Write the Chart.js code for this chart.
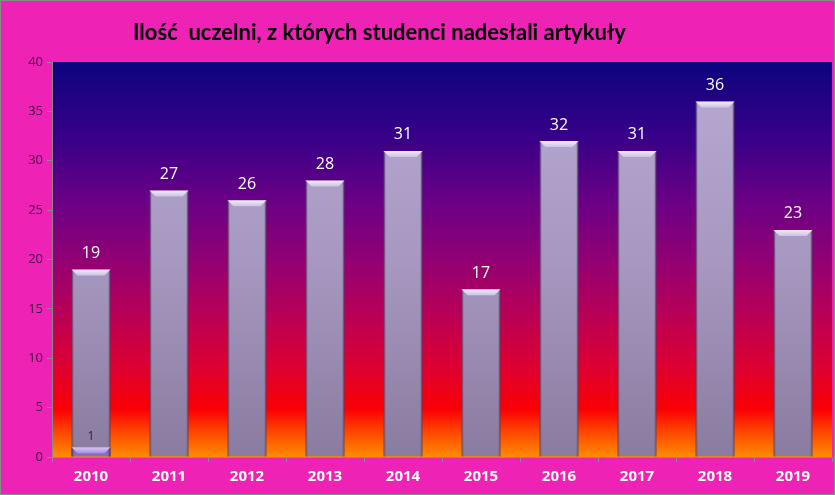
<!DOCTYPE html>
<html><head><meta charset="utf-8">
<script src="https://cdn.jsdelivr.net/npm/chart.js@4/dist/chart.umd.min.js"></script>
<style>html,body{margin:0;padding:0;background:#ee22b4;}#wrap{width:835px;height:495px;}</style>
</head><body><div id="wrap"><canvas id="c" width="835" height="495"></canvas></div>
<script>
const years = ['2010','2011','2012','2013','2014','2015','2016','2017','2018','2019'];
const universities = [19,27,26,28,31,17,32,31,36,23];
const smallSeries = [1,null,null,null,null,null,null,null,null,null];
const yTicks = [0,5,10,15,20,25,30,35,40];
const title = 'Ilość  uczelni, z których studenci nadesłali artykuły';

const bgPlugin = {
  id:'bg',
  beforeDraw(chart){
    const {ctx, chartArea:a, width, height} = chart;
    ctx.save();
    ctx.fillStyle = '#ee22b4';
    ctx.fillRect(0,0,width,height);
    const g = ctx.createLinearGradient(0,a.top,0,a.bottom);
    g.addColorStop(0,'#0c047e');
    g.addColorStop(0.2,'#3a0088');
    g.addColorStop(0.35,'#6a0086');
    g.addColorStop(0.5,'#920074');
    g.addColorStop(0.65,'#bc0054');
    g.addColorStop(0.78,'#e0002e');
    g.addColorStop(0.88,'#fb0004');
    g.addColorStop(0.94,'#ff4a00');
    g.addColorStop(1,'#ff8c00');
    ctx.fillStyle = g;
    ctx.fillRect(a.left,a.top,a.right-a.left,a.bottom-a.top);
    ctx.restore();
  },
  afterDatasetsDraw(chart){
    const ctx = chart.ctx;
    ctx.save();
    chart.data.datasets.forEach((ds,di)=>{
      const meta = chart.getDatasetMeta(di);
      meta.data.forEach((el,i)=>{
        if(ds.data[i]==null) return;
        const w = el.width, x0 = el.x - w/2, x1 = el.x + w/2, y = el.y, b = el.base;
        const sg = ctx.createLinearGradient(x0,0,x1,0);
        sg.addColorStop(0,'rgba(60,40,80,0.45)');
        sg.addColorStop(0.07,'rgba(60,40,80,0)');
        sg.addColorStop(0.93,'rgba(60,40,80,0)');
        sg.addColorStop(1,'rgba(60,40,80,0.45)');
        ctx.fillStyle = sg;
        ctx.fillRect(x0,y,w,b-y);
        const bh = 6;
        ctx.beginPath();
        ctx.moveTo(x0,y); ctx.lineTo(x1,y); ctx.lineTo(x1-bh,y+bh); ctx.lineTo(x0+bh,y+bh); ctx.closePath();
        const bg = ctx.createLinearGradient(0,y,0,y+bh);
        bg.addColorStop(0, di===0 ? '#f2ecfa' : '#d8c8f8');
        bg.addColorStop(1, di===0 ? '#cfc2e6' : '#a890e0');
        ctx.fillStyle = bg;
        ctx.fill();
        ctx.fillStyle = di===0 ? '#ffffff' : '#2a2030';
        ctx.font = di===0 ? '16px "Open Sans"' : '12px "Open Sans"';
        ctx.textAlign='center'; ctx.textBaseline='bottom';
        ctx.fillText(String(ds.data[i]), el.x, y - (di===0?8:5));
      });
    });
    ctx.restore();
  },
  afterDraw(chart){
    const ctx = chart.ctx;
    ctx.save();
    ctx.fillStyle = '#000000';
    ctx.font = 'bold 22px Lato';
    ctx.textAlign='left'; ctx.textBaseline='middle';
    ctx.fillText(title, 133, 33);
    ctx.strokeStyle = '#8a8a8a'; ctx.lineWidth = 1;
    ctx.strokeRect(0.5,0.5,834,494);
    ctx.restore();
  }
};

const barGrad = (ctx)=>{
  const ch = ctx.chart; const a = ch.chartArea;
  if(!a) return '#a898c0';
  const g = ch.ctx.createLinearGradient(0,a.top,0,a.bottom);
  g.addColorStop(0,'#b8aad2');
  g.addColorStop(0.5,'#a698c0');
  g.addColorStop(1,'#8a7ca0');
  return g;
};

new Chart(document.getElementById('c'),{
  type:'bar',
  data:{
    labels: years,
    datasets:[
      {data: universities, backgroundColor: barGrad, borderColor:'#6a5a7a', borderWidth:1, borderSkipped:'bottom', grouped:false, order:2},
      {data: smallSeries, backgroundColor:'#8a6cc8', borderColor:'#5a4a80', borderWidth:1, grouped:false, order:1}
    ]
  },
  options:{
    responsive:false, animation:false, devicePixelRatio:1,
    layout:{padding:{top:62,right:3,left:0,bottom:0}},
    datasets:{bar:{barPercentage:1, categoryPercentage:0.5}},
    plugins:{legend:{display:false}, tooltip:{enabled:false}, title:{display:false}},
    scales:{
      x:{
        grid:{display:true, drawOnChartArea:false, offset:true, color:'#8a8a8a', tickLength:5},
        border:{display:true, color:'#8a8a8a'},
        ticks:{color:'#ffffff', font:{family:'Open Sans', size:15, weight:'bold'}, padding:6},
        afterFit(s){ s.height = 38; }
      },
      y:{
        min:0, max:40,
        afterBuildTicks(s){ s.ticks = yTicks.map(v=>({value:v})); },
        grid:{display:true, drawOnChartArea:false, color:'#8a8a8a', tickLength:5},
        border:{display:true, color:'#8a8a8a'},
        ticks:{color:'#3a0a40', font:{family:'Open Sans', size:13}, padding:4},
        afterFit(s){ s.width = 52; }
      }
    }
  },
  plugins:[bgPlugin]
});
</script></body></html>
